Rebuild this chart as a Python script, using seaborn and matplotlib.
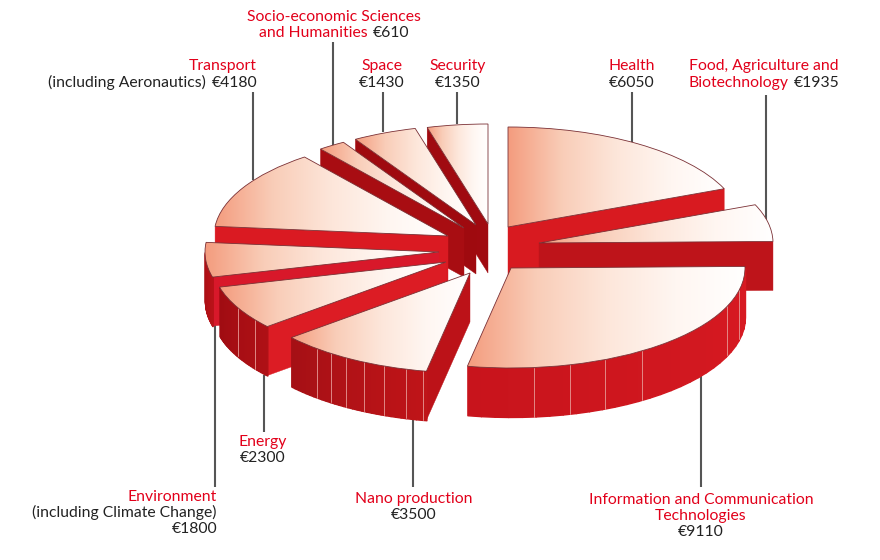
import numpy as np
import pandas as pd
import matplotlib
matplotlib.use("Agg")
import matplotlib.pyplot as plt
import seaborn as sns
from matplotlib.patches import Wedge
from matplotlib.transforms import Affine2D

# -----------------------------
# Data (clockwise from the top)
# -----------------------------
themes = ["Health", "Food", "ICT", "Nano", "Energy", "Environment",
          "Transport", "Socio", "Space", "Security"]
budget = [6050, 1935, 9110, 3500, 2300, 1800, 4180, 610, 1430, 1350]

# -----------------------------
# Layout and style per slice
# -----------------------------
centre_x = [508, 539, 511, 470, 446, 439, 448, 464, 476, 488]
centre_y = [227, 243, 268, 273, 262, 252, 236, 228, 225, 224]
face_col = ["#D81A20", "#BE141A", "#C8141C", "#BC1218", "#DC1C24",
            "#D8182A", "#DA1A22", "#A80D12", "#9F0A0F", "#A00A10"]
wall_left = ["#C8141C", "#C8141C", "#C8141C", "#A51015", "#A00C12",
             "#A80E13", "#C8141C", "#C8141C", "#C8141C", "#C8141C"]
wall_right = ["#C8141C", "#C8141C", "#D81A22", "#BF1418", "#AE1015",
              "#B81218", "#C8141C", "#C8141C", "#C8141C", "#C8141C"]
seams = {"ICT": [-84.4, -75.4, -66.3, -56, -22.6, -13],
         "Nano": [-130.8, -126.4, -122, -117, -111.5, -105.9, -101.5],
         "Energy": [-153, -144.7]}
back_to_front = ["Security", "Space", "Socio", "Transport", "Health",
                 "Food", "Environment", "Energy", "Nano", "ICT"]

RX, RY, DEPTH = 234, 100, 49
RED = "#E2001A"
INK = "#222222"

df = pd.DataFrame({"theme": themes, "budget": budget, "cx": centre_x, "cy": centre_y,
                   "face": face_col, "wall_l": wall_left, "wall_r": wall_right})
df["span"] = df["budget"] / df["budget"].sum() * 360
df["hi"] = 90 - df["span"].cumsum().shift(fill_value=0)
df["lo"] = df["hi"] - df["span"]
df = df.set_index("theme")

sns.set_theme(style="white")
plt.rcParams["font.family"] = ["Lato", "DejaVu Sans"]

fig = plt.figure(figsize=(8.8, 5.6), dpi=100)
ax = fig.add_axes([0, 0, 1, 1])
top_cmap = sns.blend_palette(["#F49C7E", "#F9CDB8", "#FDE6DA", "#FFF6F1", "#FFFFFF"], as_cmap=True)


def px(row, ang):
    return row.cx + RX * np.cos(np.radians(ang))


def py(row, ang):
    return row.cy - RY * np.sin(np.radians(ang))


def draw_slice(name):
    row = df.loc[name]
    # flat cut faces, only those turned towards the viewer
    for ang, normal in [(row.hi, row.hi + 90), (row.lo, row.lo - 90)]:
        if np.sin(np.radians(normal)) < -0.01:
            xs = [row.cx, px(row, ang), px(row, ang), row.cx]
            ys = [row.cy, py(row, ang), py(row, ang) + DEPTH, row.cy + DEPTH]
            ax.fill(xs, ys, color=row.face, lw=0.3, zorder=3)
    # curved outer wall
    a0, a1 = max(row.lo, -180), min(row.hi, 0)
    if a0 < a1:
        angs = np.linspace(a0, a1, 31)
        shades = sns.blend_palette([row.wall_l, row.wall_r], len(angs) - 1)
        for i, shade in enumerate(shades):
            seg = angs[i:i + 2]
            ax.fill_between(px(row, seg), py(row, seg), py(row, seg) + DEPTH,
                            color=shade, lw=1.0, zorder=3)
        for s in seams.get(name, []):
            ax.plot([px(row, s)] * 2, [py(row, s), py(row, s) + DEPTH],
                    color="#E79A96", lw=0.6, zorder=3)
    # top with left to right fade
    wedge = Wedge((0, 0), 1, row.lo, row.hi, facecolor="none", edgecolor="#7A3035", lw=0.6,
                  transform=Affine2D().scale(RX, -RY).translate(row.cx, row.cy) + ax.transData,
                  zorder=3)
    ang_grid = np.linspace(row.lo, row.hi, 200)
    x_all = np.append(px(row, ang_grid), row.cx)
    y_all = np.append(py(row, ang_grid), row.cy)
    img = ax.imshow(np.linspace(0, 1, 256).reshape(1, -1), cmap=top_cmap, aspect="auto",
                    extent=(x_all.min(), x_all.max(), y_all.max(), y_all.min()), zorder=3,
                    interpolation="bilinear")
    ax.add_patch(wedge)
    img.set_clip_path(wedge)


# leader lines sit behind the pie
leader_x = [253, 333, 383, 457, 632, 766, 701, 413, 264, 215]
leader_y0 = [92, 42, 92, 92, 92, 95, 375, 418, 375, 325]
leader_y1 = [180, 145, 132, 124, 142, 220, 487, 487, 432, 487]
ax.vlines(leader_x, leader_y0, leader_y1, color="#555555", lw=1.5, zorder=1)

for name in back_to_front:
    draw_slice(name)

ax.set_xlim(0, 880)
ax.set_ylim(560, 0)
ax.axis("off")


# -----------------------------
# Labels
# -----------------------------
def euro(name):
    return "€" + str(df.loc[name, "budget"])


def put_line(x, y, runs, ha):
    rend = fig.canvas.get_renderer()
    items = [ax.text(0, y, t, color=c, fontsize=11.3, va="baseline", ha="left", zorder=5)
             for t, c in runs]
    widths = [it.get_window_extent(rend).width for it in items]
    gap = 5
    total = sum(widths) + gap * (len(items) - 1)
    start = x - total if ha == "right" else x - total / 2
    for it, w in zip(items, widths):
        it.set_x(start)
        start += w + gap


labels = [
    (334, "center", [(21, [("Socio-economic Sciences", RED)]),
                     (37, [("and Humanities", RED), (euro("Socio"), INK)])]),
    (257, "right", [(70, [("Transport", RED)]),
                    (87, [("(including Aeronautics)", INK), (euro("Transport"), INK)])]),
    (382, "center", [(70, [("Space", RED)]), (87, [(euro("Space"), INK)])]),
    (458, "center", [(70, [("Security", RED)]), (87, [(euro("Security"), INK)])]),
    (632, "center", [(70, [("Health", RED)]), (87, [(euro("Health"), INK)])]),
    (764, "center", [(70, [("Food, Agriculture and", RED)]),
                     (87, [("Biotechnology", RED), (euro("Food"), INK)])]),
    (701, "center", [(504, [("Information and Communication", RED)]),
                     (520, [("Technologies", RED)]),
                     (536, [(euro("ICT"), INK)])]),
    (414, "center", [(503, [("Nano production", RED)]), (519, [(euro("Nano"), INK)])]),
    (263, "center", [(446, [("Energy", RED)]), (462, [(euro("Energy"), INK)])]),
    (217, "right", [(501, [("Environment", RED)]),
                    (517, [("(including Climate Change)", INK)]),
                    (533, [(euro("Environment"), INK)])]),
]
for x, ha, lines in labels:
    for y, runs in lines:
        put_line(x, y, runs, ha)

plt.savefig("out.png", dpi=100, facecolor="white")
